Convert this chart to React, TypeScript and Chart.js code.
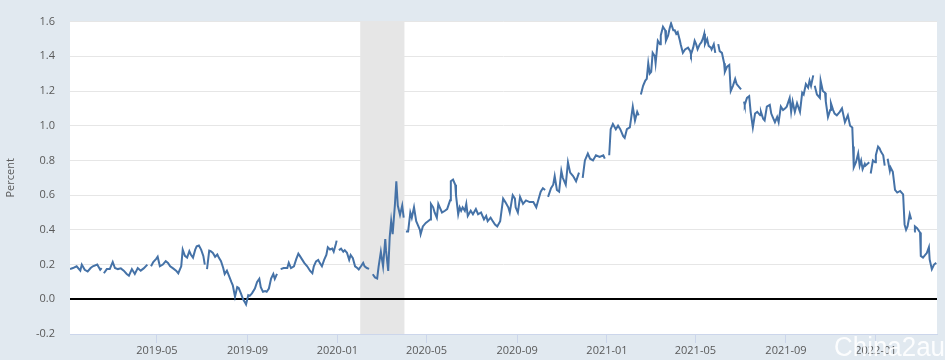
import { useEffect, useRef } from "react";
import { Chart, registerables } from "chart.js";

Chart.register(...registerables);

// ---- data ----
const START_UTC = Date.UTC(2019, 0, 2); // day 0
const xStartDate = "2019-01-03";
const xEndDate = "2022-03-25";
const tickLabels = [
  "2019-05", "2019-09", "2020-01", "2020-05", "2020-09",
  "2021-01", "2021-05", "2021-09", "2022-01",
];
const recessionStart = "2020-02-01";
const recessionEnd = "2020-04-01";
const yTickValues = [-0.2, 0, 0.2, 0.4, 0.6, 0.8, 1.0, 1.2, 1.4, 1.6];
const yAxisTitle = "Percent";
const watermarkText = "China2au";

// observation day (days after 2019-01-02)
const obsDays = [
  1, 5, 10, 15, 17, 21, 25, 29, 32, 38,
  42, 44, 46, 47, 51, 55, 59, 62, 66, 70,
  74, 78, 81, 85, 89, 93, 97, 101, 106, 108,
  111, 114, 118, 120, 123, 127, 131, 134, 137, 141,
  145, 148, 152, 154, 157, 160, 163, 165, 168, 171,
  173, 176, 179, 182, 184, 186, 187, 190, 192, 195,
  198, 201, 203, 206, 209, 211, 214, 217, 220, 222,
  225, 228, 230, 233, 236, 239, 240, 243, 245, 248,
  252, 255, 258, 260, 263, 266, 268, 271, 274, 277,
  279, 282, 284, 287, 291, 296, 298, 301, 305, 308,
  311, 313, 316, 319, 323, 327, 330, 332, 335, 338,
  340, 343, 346, 349, 351, 354, 357, 359, 362, 363,
  365, 366, 369, 372, 374, 377, 380, 382, 385, 388,
  391, 393, 396, 399, 401, 404, 407, 409, 412, 415,
  418, 420, 423, 426, 429, 430, 433, 435, 437, 439,
  442, 444, 446, 449, 452, 454, 456, 457, 460, 463,
  465, 468, 471, 473, 476, 477, 480, 484, 487, 490,
  491, 494, 496, 499, 501, 503, 506, 510, 513, 517,
  518, 521, 524, 525, 528, 530, 532, 534, 537, 539,
  541, 545, 548, 552, 555, 559, 563, 566, 568, 572,
  575, 578, 581, 585, 589, 592, 596, 598, 602, 605,
  606, 609, 612, 616, 620, 625, 630, 634, 636, 640,
  643, 646, 647, 650, 654, 657, 659, 662, 665, 668,
  670, 674, 677, 680, 684, 688, 692, 694, 697, 700,
  704, 707, 711, 715, 720, 725, 727, 730, 733, 735,
  738, 742, 745, 748, 752, 754, 757, 761, 765, 768,
  771, 773, 775, 776, 779, 782, 784, 786, 788, 790,
  792, 795, 796, 799, 802, 803, 806, 809, 810, 813,
  815, 817, 820, 822, 824, 826, 829, 830, 833, 836,
  837, 840, 843, 844, 847, 849, 851, 853, 856, 858,
  860, 862, 863, 866, 868, 871, 872, 875, 877, 878,
  881, 883, 886, 889, 890, 893, 896, 898, 901, 904,
  906, 910, 912, 913, 916, 917, 920, 923, 925, 928,
  931, 934, 938, 939, 942, 944, 947, 951, 953, 955,
  958, 961, 963, 966, 969, 972, 974, 978, 980, 982,
  985, 988, 992, 995, 997, 1000, 1003, 1005, 1007, 1010,
  1011, 1012, 1015, 1019, 1020, 1023, 1026, 1027, 1030, 1033,
  1034, 1037, 1039, 1042, 1046, 1049, 1053, 1057, 1060, 1063,
  1064, 1065, 1068, 1071, 1073, 1075, 1077, 1080, 1081, 1086,
  1087, 1088, 1091, 1094, 1095, 1098, 1100, 1102, 1105, 1107,
  1109, 1111, 1114, 1115, 1118, 1121, 1124, 1128, 1129, 1132,
  1134, 1136, 1138, 1141, 1143, 1144, 1147, 1148, 1151, 1155,
  1156, 1159, 1162, 1164, 1167, 1168, 1171, 1174, 1177,
];

// percent values (null = missing observation)
const obsValues: (number | null)[] = [
  0.174, 0.18, 0.19, 0.165, 0.2, 0.17, 0.16, 0.18, 0.19, 0.2,
  0.17, 0.18, null, 0.15, 0.174, 0.174, 0.215, 0.18, 0.174, 0.178,
  0.165, 0.146, 0.136, 0.174, 0.146, 0.18, 0.165, 0.178, 0.2, null,
  0.19, 0.215, 0.233, 0.245, 0.19, 0.2, 0.22, 0.21, 0.19, 0.178,
  0.165, 0.15, 0.19, 0.286, 0.25, 0.24, 0.277, 0.258, 0.24, 0.286,
  0.305, 0.31, 0.286, 0.25, 0.2, null, 0.174, 0.28, 0.277, 0.267,
  0.245, 0.258, 0.24, 0.22, 0.18, 0.146, 0.165, 0.133, 0.1, 0.08,
  0.015, 0.07, 0.065, 0.034, 0.0, -0.022, -0.03, 0.024, 0.02, 0.034,
  0.062, 0.1, 0.118, 0.07, 0.043, 0.047, 0.043, 0.062, 0.12, 0.146,
  0.118, 0.146, null, 0.174, 0.18, 0.18, 0.21, 0.18, 0.19, 0.23,
  0.263, 0.25, 0.23, 0.21, 0.19, 0.163, 0.15, 0.19, 0.218, 0.227,
  0.21, 0.19, 0.227, 0.255, 0.3, 0.287, 0.292, 0.274, 0.32, 0.338,
  null, 0.283, 0.292, 0.274, 0.283, 0.268, 0.227, 0.255, 0.237, 0.19,
  0.18, 0.172, 0.19, 0.21, 0.19, 0.18, 0.175, null, 0.144, 0.126,
  0.12, 0.19, 0.274, 0.19, 0.347, 0.283, 0.163, 0.357, 0.45, 0.375,
  0.54, 0.68, 0.54, 0.486, 0.54, 0.47, null, 0.39, 0.39, 0.5,
  0.47, 0.53, 0.45, 0.43, 0.4, 0.375, 0.42, 0.44, 0.45, 0.46,
  0.55, 0.53, 0.5, 0.47, 0.55, 0.53, 0.5, 0.51, 0.52, 0.57,
  0.68, 0.69, 0.66, 0.6, 0.49, 0.53, 0.51, 0.53, 0.51, 0.55,
  0.48, 0.51, 0.49, 0.52, 0.49, 0.5, 0.46, 0.48, 0.45, 0.47,
  0.45, 0.43, 0.42, 0.45, 0.58, 0.56, 0.53, 0.5, 0.6, 0.58,
  0.53, 0.5, 0.59, 0.55, 0.57, 0.56, 0.56, 0.53, 0.56, 0.62,
  0.64, 0.63, null, 0.59, 0.64, 0.66, 0.71, 0.63, 0.62, 0.74,
  0.7, 0.66, 0.79, 0.73, 0.71, 0.68, 0.73, null, 0.7, 0.8,
  0.84, 0.81, 0.8, 0.83, 0.82, 0.83, 0.81, null, 0.83, 0.98,
  1.01, 0.98, 1.0, 0.98, 0.94, 0.93, 0.98, 0.99, 1.11, 1.03,
  1.08, 1.06, null, 1.18, 1.23, 1.26, 1.27, 1.36, 1.3, 1.31,
  1.42, 1.4, 1.36, 1.49, 1.47, 1.52, 1.57, 1.55, 1.49, 1.52,
  1.56, 1.59, 1.55, 1.55, 1.53, 1.54, 1.49, 1.47, 1.42, 1.44,
  1.44, 1.45, 1.43, 1.41, 1.45, 1.49, 1.47, 1.44, 1.47, 1.48,
  1.5, 1.53, 1.47, 1.5, 1.46, 1.45, 1.44, 1.47, 1.42, null,
  1.47, 1.43, 1.42, 1.36, 1.31, 1.34, 1.35, 1.2, 1.23, 1.27,
  1.24, 1.22, 1.21, null, 1.14, 1.12, 1.16, 1.17, 1.08, 0.99,
  1.07, 1.08, 1.06, 1.08, 1.04, 1.03, 1.11, 1.12, 1.07, 1.05,
  1.02, 1.05, 1.02, 1.11, 1.09, 1.1, 1.11, 1.16, 1.08, 1.14,
  1.08, 1.13, 1.08, 1.19, 1.18, 1.24, 1.22, 1.26, 1.23, 1.29,
  null, 1.23, 1.18, 1.16, 1.26, 1.2, 1.19, 1.14, 1.05, 1.09,
  1.13, 1.09, 1.07, 1.06, 1.08, 1.1, 1.02, 1.06, 1.0, 0.99,
  0.88, 0.76, 0.79, 0.84, 0.77, 0.8, 0.75, 0.78, 0.77, 0.79,
  null, 0.725, 0.8, 0.79, 0.83, 0.88, 0.87, 0.85, 0.83, 0.77,
  null, 0.81, 0.74, 0.76, 0.735, 0.63, 0.615, 0.624, 0.624, 0.605,
  0.43, 0.4, 0.42, 0.49, 0.46, null, 0.39, 0.42, 0.41, 0.385,
  0.25, 0.24, 0.256, 0.265, 0.3, 0.23, 0.173, 0.2, 0.21,
];

// ---- helpers ----
function dayOf(s: string): number {
  const p = s.split("-").map(Number);
  return Math.round((Date.UTC(p[0], p[1] - 1, p[2] || 1) - START_UTC) / 86400000);
}

const FONT = '"Open Sans", "DejaVu Sans", sans-serif';
const LABEL_COLOR = "#595959";

const backgroundPlugin = {
  id: "fredBackground",
  beforeDraw(chart: any) {
    const { ctx, chartArea: a, scales } = chart;
    ctx.save();
    ctx.fillStyle = "#ffffff";
    ctx.fillRect(a.left, a.top, a.right - a.left, a.bottom - a.top);
    const x0 = scales.x.getPixelForValue(dayOf(recessionStart));
    const x1 = scales.x.getPixelForValue(dayOf(recessionEnd));
    ctx.fillStyle = "#e6e6e6";
    ctx.fillRect(x0, a.top, x1 - x0, a.bottom - a.top);
    ctx.restore();
  },
  afterDraw(chart: any) {
    const { ctx } = chart;
    ctx.save();
    ctx.font = '27px "Liberation Sans Narrow", "Liberation Sans", sans-serif';
    ctx.fillStyle = "rgba(255,255,255,0.9)";
    ctx.textAlign = "left";
    ctx.textBaseline = "alphabetic";
    ctx.fillText(watermarkText, 834, 356, 111);
    ctx.restore();
  },
};

export default function App() {
  const canvasRef = useRef<HTMLCanvasElement | null>(null);

  useEffect(() => {
    if (!canvasRef.current) return;
    const n = Math.min(obsDays.length, obsValues.length);
    const points = [];
    for (let i = 0; i < n; i++) points.push({ x: obsDays[i], y: obsValues[i] });
    const tickDays = tickLabels.map((t) => dayOf(t));

    const chart = new Chart(canvasRef.current, {
      type: "line",
      data: {
        datasets: [
          {
            data: points as any,
            borderColor: "#4572a7",
            borderWidth: 2,
            pointRadius: 0,
            tension: 0,
            fill: false,
            spanGaps: false,
          },
        ],
      },
      options: {
        responsive: false,
        maintainAspectRatio: false,
        animation: false,
        events: [],
        layout: { padding: { top: 8, right: 8, left: 0, bottom: 0 } },
        plugins: { legend: { display: false }, tooltip: { enabled: false } },
        scales: {
          x: {
            type: "linear",
            min: dayOf(xStartDate),
            max: dayOf(xEndDate),
            afterFit: (s: any) => {
              s.height = 26;
            },
            afterBuildTicks: (s: any) => {
              s.ticks = tickDays.map((v) => ({ value: v }));
            },
            grid: {
              drawOnChartArea: false,
              drawTicks: true,
              tickLength: 9,
              color: "#ccd6eb",
            },
            border: { display: true, color: "#ccd6eb", width: 1 },
            ticks: {
              autoSkip: false,
              maxRotation: 0,
              minRotation: 0,
              padding: 1,
              color: LABEL_COLOR,
              font: { family: FONT, size: 11 },
              callback: (v: any) => {
                const i = tickDays.indexOf(Number(v));
                return i >= 0 ? tickLabels[i] : "";
              },
            },
          },
          y: {
            type: "linear",
            min: -0.2,
            max: 1.6,
            afterFit: (s: any) => {
              s.width = 70;
            },
            afterBuildTicks: (s: any) => {
              s.ticks = yTickValues.map((v) => ({ value: v }));
            },
            grid: {
              drawTicks: false,
              color: (c: any) =>
                c.tick && Math.abs(c.tick.value) < 1e-9 ? "#000000" : "#e6e6e6",
              lineWidth: (c: any) =>
                c.tick && Math.abs(c.tick.value) < 1e-9 ? 2 : 1,
            },
            border: { display: false },
            ticks: {
              padding: 15,
              color: LABEL_COLOR,
              font: { family: FONT, size: 11 },
              callback: (v: any) => Number(v).toFixed(1),
            },
            title: {
              display: true,
              text: yAxisTitle,
              color: LABEL_COLOR,
              font: { family: FONT, size: 11 },
              padding: { top: 4, bottom: 0 },
            },
          },
        },
      },
      plugins: [backgroundPlugin],
    });
    return () => chart.destroy();
  }, []);

  return (
    <div
      style={{
        position: "absolute",
        left: 0,
        top: 0,
        width: 945,
        height: 360,
        background: "#e1e9f0",
        overflow: "hidden",
      }}
    >
      <canvas ref={canvasRef} width={945} height={360} style={{ display: "block" }} />
    </div>
  );
}
